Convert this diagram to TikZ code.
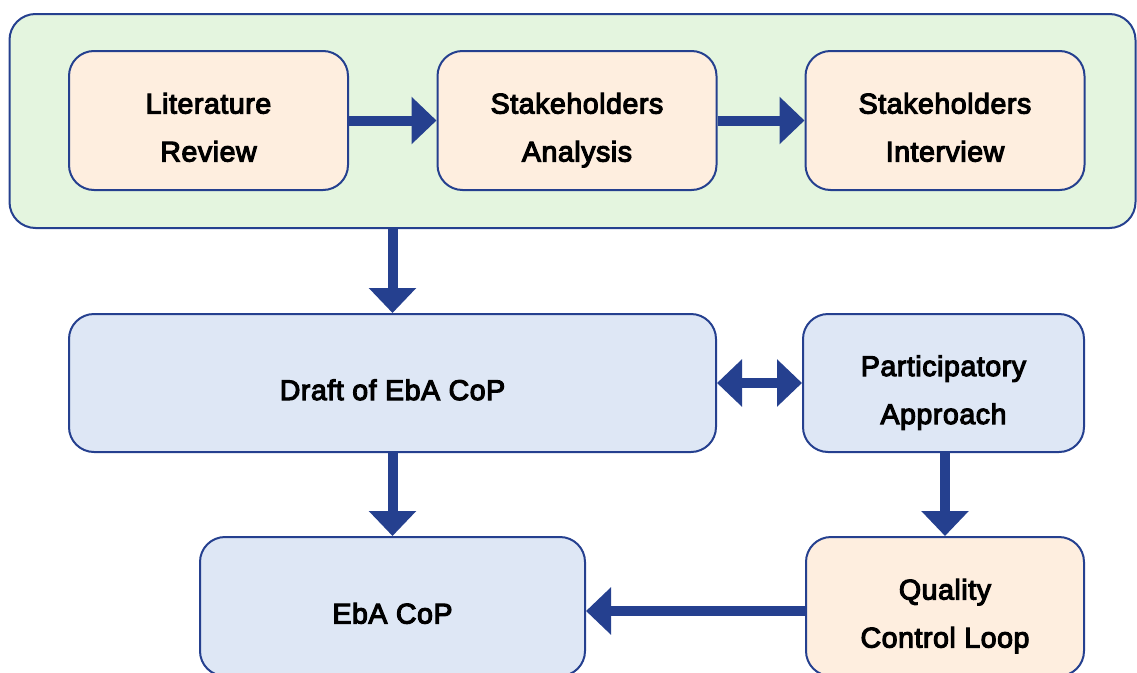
\documentclass[tikz,border=0pt]{standalone}
\usepackage{fontspec}
\newfontfamily\labfont[FakeBold=4,LetterSpace=2]{Liberation Sans}
\usetikzlibrary{arrows.meta,calc}
\definecolor{navy}{RGB}{37,64,143}
\definecolor{greenbg}{RGB}{228,245,223}
\definecolor{peach}{RGB}{254,238,223}
\definecolor{paleblue}{RGB}{222,231,245}
\newcommand\lst{\rule[-6pt]{0pt}{46pt}}
\tikzset{
  boxbase/.style={draw=navy, line width=2pt, rounded corners=25pt, align=center,
    font=\labfont\fontsize{28.5}{48}\selectfont, text=black, inner sep=0pt},
  peachbox/.style={boxbase, fill=peach},
  bluebox/.style={boxbase, fill=paleblue},
  fatarrow/.style={draw=navy, line width=10pt,
    -{Triangle[length=25pt,width=46pt]}},
  fatdouble/.style={draw=navy, line width=10pt,
    {Triangle[length=25pt,width=46pt]}-{Triangle[length=25pt,width=46pt]}}
}
\begin{document}
\begin{tikzpicture}[x=1pt,y=-1pt]
\useasboundingbox (0,0) rectangle (1137,672);
\clip (0,0) rectangle (1137,672);
\node[draw=navy, line width=2pt, fill=greenbg, rounded corners=26pt,
  minimum width=1126pt, minimum height=214pt, inner sep=0pt] (outer) at (572.5,121) {};
\node[peachbox, minimum width=279pt, minimum height=139pt] (lit) at (208.5,120.5) {\lst Literature\\\lst Review};
\node[peachbox, minimum width=279pt, minimum height=139pt] (sa) at (577,120.5) {\lst Stakeholders\\\lst Analysis};
\node[peachbox, minimum width=279pt, minimum height=139pt] (si) at (945,120.5) {\lst Stakeholders\\\lst Interview};
\node[bluebox, minimum width=647pt, minimum height=138pt] (draft) at (392.5,383) {\lst Draft of EbA CoP};
\node[bluebox, minimum width=281pt, minimum height=138pt] (pa) at (943.5,383) {\lst Participatory\\\lst Approach};
\node[bluebox, minimum width=385pt, minimum height=139pt] (eba) at (392.5,606.5) {\lst EbA CoP};
\node[peachbox, minimum width=278pt, minimum height=139pt] (qc) at (945,606.5) {\lst Quality\\\lst Control Loop};
\draw[fatarrow] (lit.east) -- (sa.west);
\draw[fatarrow] (sa.east) -- (si.west);
\draw[fatarrow] (outer.south -| draft.north) -- (draft.north);
\draw[fatdouble] (draft.east) -- (pa.west);
\draw[fatarrow] (draft.south) -- (eba.north);
\draw[fatarrow] (pa.south -| qc.north) -- (qc.north);
\draw[fatarrow] ($(qc.west)+(0,4.5)$) -- ($(eba.east)+(0,4.5)$);
\end{tikzpicture}
\end{document}
